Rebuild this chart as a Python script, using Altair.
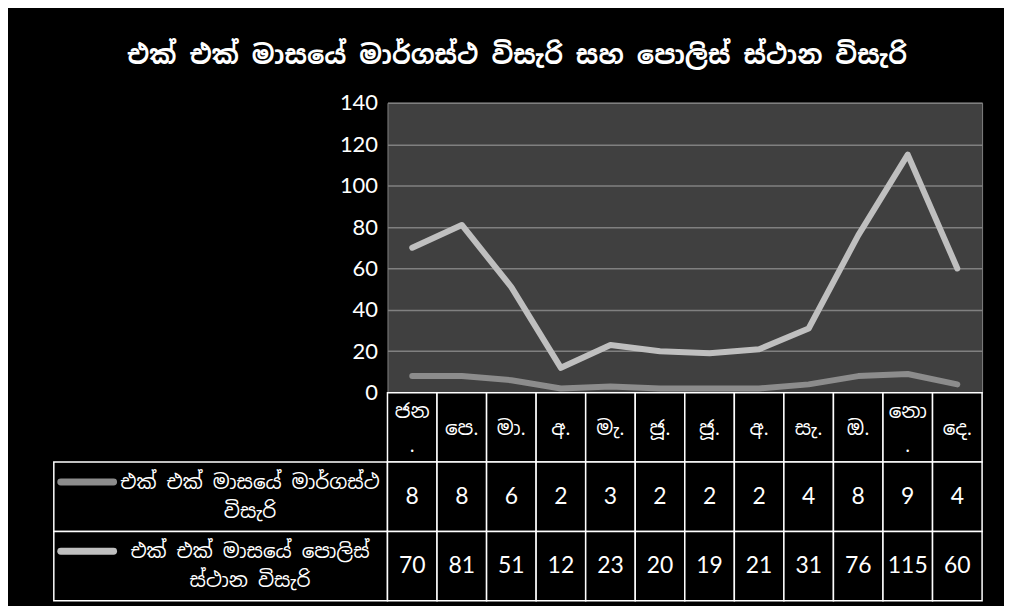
import altair as alt
import pandas as pd

# ---- data ----
month_labels = ["ජන\n.", "පෙ.", "මා.", "අ.", "මැ.", "ජූ.", "ජූ.", "අ.", "සැ.", "ඔ.", "නො\n.", "දෙ."]
road_values = [8, 8, 6, 2, 3, 2, 2, 2, 4, 8, 9, 4]
police_values = [70, 81, 51, 12, 23, 20, 19, 21, 31, 76, 115, 60]
series_names = ["එක් එක් මාසයේ මාර්ගස්ථ විසැරි", "එක් එක් මාසයේ පොලිස් ස්ථාන විසැරි"]
series_table_labels = ["එක් එක් මාසයේ මාර්ගස්ථ\nවිසැරි", "එක් එක් මාසයේ පොලිස්\nස්ථාන විසැරි"]
y_ticks = [0, 20, 40, 60, 80, 100, 120, 140]
chart_title = "එක් එක් මාසයේ මාර්ගස්ථ විසැරි සහ පොලිස් ස්ථාන විසැරි"

series_colors = ["#8c8c8c", "#bfbfbf"]
SIN_FONT = "Noto Sans Sinhala"
NUM_FONT = "Lato"

# ---- tables ----
rows = []
for i in range(len(month_labels)):
    rows.append({"m": i, "series": series_names[0], "value": road_values[i]})
    rows.append({"m": i, "series": series_names[1], "value": police_values[i]})
long_df = pd.DataFrame(rows)

cells = []
for i, lab in enumerate(month_labels):
    cells.append({"m": i, "row": "h", "txt": lab})
    cells.append({"m": i, "row": "r", "txt": str(road_values[i])})
    cells.append({"m": i, "row": "p", "txt": str(police_values[i])})
cell_df = pd.DataFrame(cells)

label_df = pd.DataFrame({
    "row": ["r", "p"],
    "series": series_names,
    "label": series_table_labels,
})

row_domain = ["h", "r", "p"]
PLOT_W, PLOT_H = 597, 291
LAB_W, TAB_H = 335, 209

color_scale = alt.Scale(domain=series_names, range=series_colors)

# ---- line chart ----
line = alt.Chart(long_df).mark_line(
    strokeWidth=6, strokeCap="round", strokeJoin="round"
).encode(
    x=alt.X("m:O", scale=alt.Scale(type="point", padding=0.5), axis=None),
    y=alt.Y(
        "value:Q",
        scale=alt.Scale(domain=[0, 140], nice=False),
        axis=alt.Axis(
            values=y_ticks, title=None, labelFontSize=22, labelColor="white",
            labelFont=NUM_FONT, grid=True, gridColor="#808080", gridWidth=1.5,
            domain=False, ticks=False, labelPadding=10,
        ),
    ),
    color=alt.Color("series:N", scale=color_scale, legend=None),
).properties(
    width=PLOT_W, height=PLOT_H,
    view=alt.ViewBackground(fill="#404040", stroke="#808080"),
)

spacer = alt.Chart(pd.DataFrame({"a": [0]})).mark_point(opacity=0).encode(
    x=alt.value(0), y=alt.value(0)
).properties(width=LAB_W, height=PLOT_H)

# ---- data table: month columns ----
xband = alt.X("m:O", scale=alt.Scale(paddingInner=0, paddingOuter=0), axis=None)
yband = alt.Y("row:N", scale=alt.Scale(domain=row_domain, paddingInner=0, paddingOuter=0), axis=None)

grid_base = alt.Chart(cell_df).transform_calculate(
    multi="indexof(datum.txt, '\\n') >= 0"
)
grid_rects = grid_base.mark_rect(fill="black", stroke="white", strokeWidth=1.5).encode(x=xband, y=yband)
head_single = grid_base.transform_filter(
    (alt.datum.row == "h") & (~alt.datum.multi)
).mark_text(
    color="white", fontSize=20, font=SIN_FONT, align="center", baseline="middle", dy=2,
).encode(x=xband, y=yband, text="txt:N")
head_multi = grid_base.transform_filter(
    (alt.datum.row == "h") & (alt.datum.multi)
).mark_text(
    color="white", fontSize=20, font=SIN_FONT, lineBreak="\n", lineHeight=34,
    align="center", baseline="middle", dy=-15,
).encode(x=xband, y=yband, text="txt:N")
val_text = grid_base.transform_filter(alt.datum.row != "h").mark_text(
    color="white", fontSize=23, font=NUM_FONT, align="center", baseline="middle",
).encode(x=xband, y=yband, text="txt:N")
month_table = alt.layer(grid_rects, head_single, head_multi, val_text).properties(
    width=PLOT_W, height=TAB_H
)

# ---- data table: series label column ----
lab_base = alt.Chart(label_df)
lab_rects = lab_base.mark_rect(fill="black", stroke="white", strokeWidth=1.5).encode(
    x=alt.value(0), x2=alt.value("width"), y=yband
)
lab_swatch = lab_base.mark_rule(strokeWidth=7, strokeCap="round").encode(
    x=alt.value(7), x2=alt.value(60), y=yband, yOffset=alt.value(20),
    color=alt.Color("series:N", scale=color_scale, legend=None),
)
lab_text = lab_base.mark_text(
    color="white", fontSize=20, font=SIN_FONT, lineBreak="\n", lineHeight=29,
    align="center", baseline="middle", dy=-14,
).encode(x=alt.value(197), y=yband, text="label:N")
label_table = alt.layer(lab_rects, lab_swatch, lab_text).properties(width=LAB_W, height=TAB_H)

chart = alt.concat(
    spacer, line, label_table, month_table, columns=2, spacing=0
).properties(
    title=alt.TitleParams(
        chart_title, fontSize=26, fontWeight="bold", color="white", font=SIN_FONT,
        anchor="middle", offset=22,
    ),
    background="black",
    bounds="flush",
    align="each",
    padding={"left": 43, "top": 34, "right": 21, "bottom": 3},
).configure_view(stroke=None).resolve_scale(color="shared")

chart.save("out.html", embed_options={"renderer": "svg", "actions": False})
